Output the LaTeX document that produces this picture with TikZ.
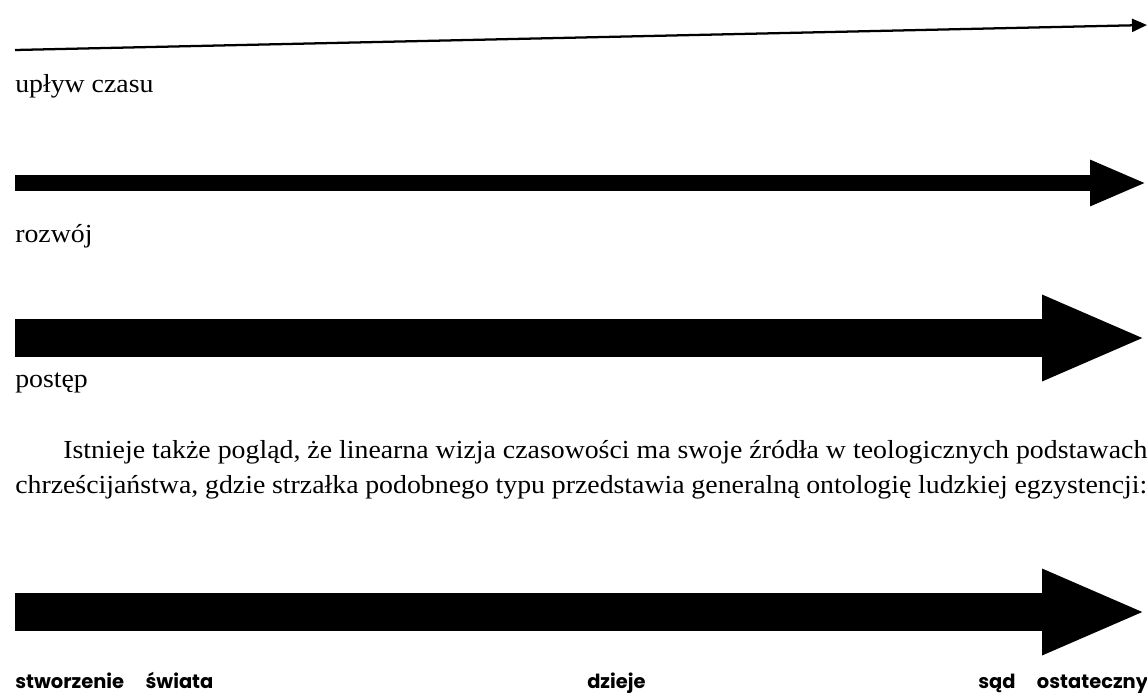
\documentclass[tikz,border=0pt]{standalone}
\usepackage{fontspec}
\setmainfont[FakeStretch=1.07]{Liberation Serif}
\newfontfamily\labelfont{Poppins}
\usepackage{tikz}
\usetikzlibrary{arrows.meta}
\usetikzlibrary{positioning}

\begin{document}
\begin{tikzpicture}[x=0.75pt, y=-0.75pt,
    thinarrow/.style={line width=1.7pt, -{Triangle[length=11.25pt, width=9.75pt]}},
    midarrow/.style={line width=12pt, -{Triangle[length=42.75pt, width=31.5pt]}},
    bigarrow/.style={line width=28.5pt, -{Triangle[length=78.75pt, width=58.5pt]}},
    caption/.style={anchor=base west, inner sep=0pt, font=\fontsize{19.5}{26.25}\selectfont},
    stage/.style={anchor=base west, inner sep=0pt, font=\labelfont\bfseries\fontsize{14.6}{17}\selectfont}]
    \useasboundingbox (0,0) rectangle (1147,693);

    % czas, rozwoj, postep
    \coordinate (czasA) at (15,50);
    \coordinate (czasB) at (1147,25);
    \draw[thinarrow] (czasA) -- (czasB);
    \node (czas) [caption] at (15,92) {upływ czasu};

    \coordinate (rozwojA) at (15,183);
    \coordinate (rozwojB) at (1147,183);
    \draw[midarrow] (rozwojA) -- (rozwojB);
    \node (rozwoj) [caption] at (15,242) {rozwój};

    \coordinate (postepA) at (15,338);
    \coordinate (postepB) at (1147,338);
    \draw[bigarrow] (postepA) -- (postepB);
    \node (postep) [caption] at (15,387) {postęp};

    % akapit
    \node (akapit) [caption, anchor=base west, text width=849pt, align=justify] at (15,458)
    {\hyphenpenalty=10000\parindent=36pt\indent Istnieje także pogląd, że linearna wizja czasowości ma swoje źródła w teologicznych podstawach\linebreak chrześcijaństwa, gdzie strzałka podobnego typu przedstawia generalną ontologię ludzkiej egzystencji:\par};

    % dzieje
    \coordinate (dziejeA) at (15,612);
    \coordinate (dziejeB) at (1147,612);
    \draw[bigarrow] (dziejeA) -- (dziejeB);
    \node (stworzenie) [stage] at (15,688) {stworzenie\hspace{1.1em}świata};
    \node (dzieje) [stage] at (587,688) {dzieje};
    \node (sad) [stage] at (978,688) {sąd\hspace{1.1em}ostateczny};
\end{tikzpicture}
\end{document}
